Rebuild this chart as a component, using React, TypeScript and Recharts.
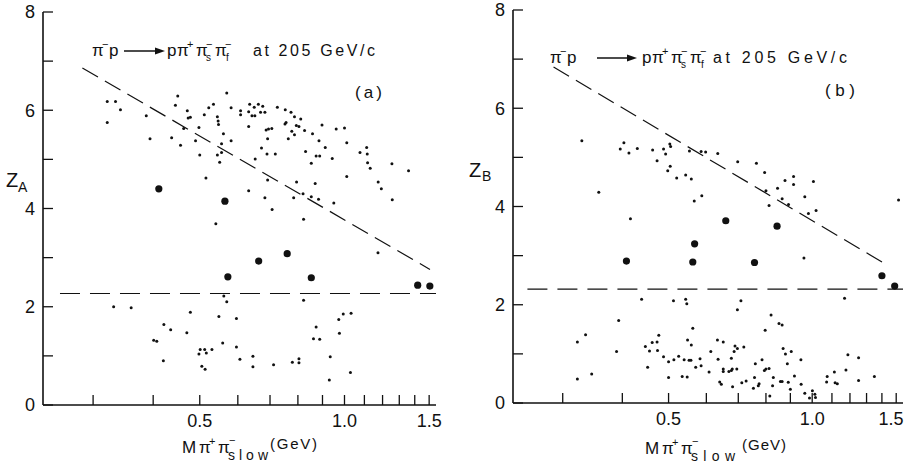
import { ScatterChart, Scatter, XAxis, YAxis, ReferenceLine } from "recharts";

// Z vs M(pi+ pi-slow), two panels (Z_A and Z_B). Values are [M in GeV, Z].
const M_DOMAIN: [number, number] = [0.236, 1.55];
const M_TICKS = [0.3, 0.4, 0.5, 0.6, 0.7, 0.8, 0.9, 1.0, 1.1, 1.2, 1.3, 1.4, 1.5];
const M_LABELS = [0.5, 1.0, 1.5];
const Z_DOMAIN: [number, number] = [0, 8];
const Z_TICKS = [0, 1, 2, 3, 4, 5, 6, 7, 8];
const Z_LABELS = [0, 2, 4, 6, 8];

const panelAEvents: [number, number][] = [
  [0.321, 6.18], [0.334, 6.18], [0.342, 6.01], [0.321, 5.75], [0.387, 5.89], [0.394, 5.42],
  [0.45, 6.29], [0.445, 6.1], [0.437, 5.44], [0.456, 5.29], [0.471, 5.99], [0.473, 5.84],
  [0.478, 5.86], [0.463, 5.63], [0.498, 5.65], [0.49, 5.38], [0.5, 5.09], [0.511, 5.91],
  [0.522, 6.05], [0.534, 6.12], [0.569, 6.35], [0.544, 5.87], [0.546, 5.78], [0.547, 5.71],
  [0.56, 5.52], [0.555, 5.32], [0.544, 5.09], [0.55, 4.94], [0.555, 5.14], [0.515, 4.62],
  [0.581, 6.05], [0.581, 5.38], [0.608, 5.99], [0.608, 5.91], [0.635, 6.12], [0.649, 6.06],
  [0.662, 6.12], [0.632, 5.97], [0.642, 5.89], [0.651, 5.89], [0.632, 5.67], [0.652, 5.01],
  [0.632, 4.36], [0.54, 3.69], [0.676, 6.08], [0.669, 5.96], [0.683, 5.96], [0.725, 6.06],
  [0.753, 6.01], [0.774, 5.96], [0.787, 5.87], [0.811, 5.82], [0.756, 5.75], [0.752, 5.72],
  [0.794, 5.69], [0.804, 5.67], [0.777, 5.57], [0.826, 5.59], [0.687, 5.6], [0.695, 5.62],
  [0.706, 5.63], [0.692, 5.42], [0.764, 5.42], [0.787, 5.5], [0.858, 5.52], [0.898, 5.7],
  [0.961, 5.62], [1.0, 5.64], [0.885, 5.38], [1.011, 5.34], [0.672, 5.23], [0.69, 5.11],
  [0.718, 5.11], [0.83, 5.16], [0.912, 5.24], [0.873, 5.07], [0.888, 5.07], [0.943, 5.02],
  [0.853, 4.92], [1.077, 5.14], [1.112, 5.24], [1.115, 5.11], [1.117, 4.93], [1.131, 4.82],
  [1.255, 4.91], [1.359, 4.77], [1.011, 4.65], [0.692, 4.58], [0.795, 4.54], [0.869, 4.51],
  [1.175, 4.54], [1.193, 4.4], [0.683, 4.22], [0.784, 4.22], [0.82, 4.3], [0.853, 4.24],
  [0.883, 4.19], [0.95, 4.11], [1.257, 4.18], [0.707, 3.98], [0.822, 3.78], [1.174, 3.1],
  // below the horizontal cut
  [0.331, 2.0], [0.36, 1.98], [0.421, 1.64], [0.435, 1.53], [0.401, 1.32], [0.407, 1.3],
  [0.42, 0.9], [0.478, 1.89], [0.47, 1.47], [0.501, 1.13], [0.512, 1.13], [0.498, 1.04],
  [0.516, 1.06], [0.53, 1.13], [0.505, 0.79], [0.513, 0.73], [0.561, 2.22], [0.569, 2.1],
  [0.548, 1.8], [0.558, 1.26], [0.596, 1.76], [0.596, 1.18], [0.606, 0.93], [0.645, 0.99],
  [0.645, 0.78], [0.712, 0.82], [0.779, 0.87], [0.804, 0.94], [0.804, 0.86], [0.822, 2.13],
  [0.873, 1.59], [0.862, 1.35], [0.888, 1.34], [0.934, 0.98], [0.93, 0.51], [0.973, 1.74],
  [0.994, 1.85], [0.976, 1.46], [1.032, 1.87], [1.029, 0.66],
];
const panelASelected: [number, number][] = [
  [0.411, 4.4], [0.564, 4.15], [0.572, 2.61], [0.663, 2.93], [0.76, 3.08], [0.853, 2.59],
  [1.42, 2.44], [1.505, 2.42],
];

const panelBEvents: [number, number][] = [
  [0.329, 5.34], [0.357, 4.29], [0.416, 3.75], [0.403, 5.3], [0.396, 5.17], [0.413, 5.09],
  [0.43, 5.18], [0.463, 5.15], [0.488, 5.17], [0.503, 5.27], [0.505, 5.22], [0.493, 5.07],
  [0.473, 4.93], [0.504, 4.82], [0.498, 4.73], [0.52, 4.58], [0.543, 4.64], [0.558, 4.56],
  [0.553, 5.13], [0.585, 5.12], [0.598, 5.11], [0.634, 5.08], [0.566, 4.11], [0.587, 4.22],
  [0.698, 4.91], [0.764, 4.88], [0.795, 4.69], [0.8, 4.32], [0.812, 4.02], [0.846, 4.37],
  [0.877, 4.53], [0.914, 4.61], [0.914, 4.45], [0.865, 4.16], [0.892, 4.04], [0.965, 4.2],
  [1.006, 4.51], [0.982, 3.86], [1.019, 3.92], [0.961, 2.95], [1.517, 4.13],
  // below the horizontal cut
  [0.322, 1.24], [0.335, 1.39], [0.322, 0.49], [0.345, 0.59], [0.389, 1.05], [0.393, 1.68],
  [0.439, 2.11], [0.447, 1.15], [0.456, 1.06], [0.452, 0.73], [0.462, 1.23], [0.473, 1.24],
  [0.477, 1.38], [0.474, 1.07], [0.488, 0.94], [0.5, 0.84], [0.5, 0.52], [0.513, 0.88],
  [0.525, 0.95], [0.512, 2.08], [0.543, 2.11], [0.546, 2.02], [0.562, 1.52], [0.548, 1.28],
  [0.558, 1.18], [0.539, 0.88], [0.552, 0.87], [0.557, 0.87], [0.534, 0.54], [0.547, 0.53],
  [0.57, 0.73], [0.582, 0.9], [0.585, 0.76], [0.709, 2.08], [0.697, 1.9], [0.82, 1.79],
  [0.852, 1.62], [0.865, 1.59], [0.797, 1.48], [0.633, 1.28], [0.651, 1.24], [0.689, 1.16],
  [0.697, 1.11], [0.686, 1.05], [0.719, 1.14], [0.613, 1.05], [0.635, 0.89], [0.677, 0.91],
  [0.608, 0.63], [0.651, 0.69], [0.651, 0.64], [0.669, 0.64], [0.677, 0.66], [0.68, 0.69],
  [0.695, 0.69], [0.64, 0.43], [0.645, 0.38], [0.681, 0.33], [0.712, 0.41], [0.727, 0.45],
  [0.757, 0.52], [0.753, 0.3], [0.771, 0.35], [0.774, 0.39], [0.76, 0.8], [0.785, 0.88],
  [0.794, 0.66], [0.8, 0.69], [0.812, 0.7], [0.829, 0.52], [0.826, 0.35], [0.815, 0.14],
  [0.858, 0.44], [0.865, 0.44], [0.869, 1.11], [0.879, 1.0], [0.904, 1.05], [0.887, 0.8],
  [0.891, 0.42], [0.9, 0.28], [0.918, 0.55], [0.947, 0.88], [0.948, 0.38], [0.965, 0.2],
  [1.001, 0.25], [1.013, 0.18], [1.016, 0.11], [0.987, 0.1], [1.075, 0.54], [1.072, 0.43],
  [1.113, 0.63], [1.117, 0.41], [1.129, 0.39], [1.177, 0.67], [1.188, 0.98], [1.251, 0.92],
  [1.251, 0.46], [1.35, 0.54], [1.169, 2.13],
];
const panelBSelected: [number, number][] = [
  [0.408, 2.89], [0.562, 2.87], [0.567, 3.24], [0.659, 3.71], [0.757, 2.86], [0.844, 3.6],
  [1.4, 2.59], [1.489, 2.38],
];

// dashed cut lines
const panelASlope: [number, number][] = [[0.285, 6.86], [1.506, 2.76]];
const panelAFloor: [number, number][] = [[0.256, 2.27], [1.55, 2.27]];
const panelBSlope: [number, number][] = [[0.287, 6.84], [1.44, 2.8]];
const panelBFloor: [number, number][] = [[0.253, 2.32], [1.55, 2.32]];

const FONT = '"Liberation Sans", Arial, sans-serif';
const INK = "#111";
const CHART_H = 464;
const TICK_IN = -10; // negative tick size: marks point into the box
const AXIS_LINE = { stroke: INK, strokeWidth: 1.6 };
const TICK_LINE = { stroke: INK, strokeWidth: 1.3 };

// plot boxes (page px) that follow from the chart positions and margins below
const BOX_A = { left: 43, top: 12, width: 393, height: 393 };
const BOX_B = { left: 513, top: 10, width: 390, height: 393 };

const toPoints = (rows: [number, number][]) => rows.map(([x, y]) => ({ x, y }));
const isLabel = (v: number) => M_LABELS.some((m) => Math.abs(m - v) < 1e-6);

function BottomLabel(props: any) {
  const { x, y, payload, maxX } = props;
  if (!isLabel(payload.value)) return <g />;
  return (
    <text x={Math.min(x, maxX)} y={y - TICK_IN + 22} textAnchor="middle" fontSize={18} fontFamily={FONT} fill={INK}>
      {payload.value.toFixed(1)}
    </text>
  );
}

function LeftLabel(props: any) {
  const { x, y, payload } = props;
  if (!Z_LABELS.includes(payload.value)) return <g />;
  return (
    <text x={x + TICK_IN - 8} y={y} dy="0.36em" textAnchor="end" fontSize={18} fontFamily={FONT} fill={INK}>
      {payload.value}
    </text>
  );
}

const noLabel = () => <g />;
const smallDot = (p: any) => <circle cx={p.cx} cy={p.cy} r={1.5} fill={INK} />;
const bigDot = (p: any) => <circle cx={p.cx} cy={p.cy} r={3.6} fill={INK} />;

interface PanelProps {
  pageLeft: number;
  width: number;
  box: { left: number; top: number; width: number; height: number };
  events: [number, number][];
  selected: [number, number][];
  slope: [number, number][];
  floor: [number, number][];
}

function Panel({ pageLeft, width, box, events, selected, slope, floor }: PanelProps) {
  const seg = (pts: [number, number][]) => pts.map(([x, y]) => ({ x, y }));
  const yAxisW = 30;
  const xAxisH = 30;
  const margin = {
    top: box.top,
    left: box.left - pageLeft - yAxisW,
    right: pageLeft + width - (box.left + box.width),
    bottom: CHART_H - (box.top + box.height) - xAxisH,
  };
  const mAxis = {
    type: "number" as const,
    scale: "log" as const,
    domain: M_DOMAIN,
    allowDataOverflow: true,
    ticks: M_TICKS,
    interval: 0 as const,
    tickSize: TICK_IN,
    tickMargin: 0,
    tickLine: TICK_LINE,
    axisLine: AXIS_LINE,
  };
  const zAxis = {
    type: "number" as const,
    domain: Z_DOMAIN,
    allowDataOverflow: true,
    ticks: Z_TICKS,
    interval: 0 as const,
    tickSize: TICK_IN,
    tickMargin: 0,
    tickLine: TICK_LINE,
    axisLine: AXIS_LINE,
  };
  return (
    <div style={{ position: "absolute", left: pageLeft, top: 0 }}>
      <ScatterChart width={width} height={CHART_H} margin={margin}>
        <XAxis xAxisId="b" dataKey="x" height={xAxisH} {...mAxis} tick={(p: any) => <BottomLabel {...p} maxX={width - 14} />} />
        <XAxis xAxisId="t" orientation="top" height={0} {...mAxis} tick={noLabel} />
        <YAxis yAxisId="l" dataKey="y" width={yAxisW} {...zAxis} tick={(p: any) => <LeftLabel {...p} />} />
        <YAxis yAxisId="r" orientation="right" width={0} {...zAxis} tick={noLabel} />
        <ReferenceLine xAxisId="b" yAxisId="l" ifOverflow="visible" segment={seg(slope)} stroke={INK} strokeWidth={1.2} strokeDasharray="18 8" />
        <ReferenceLine xAxisId="b" yAxisId="l" ifOverflow="visible" segment={seg(floor)} stroke={INK} strokeWidth={1.2} strokeDasharray="20 10" />
        <Scatter xAxisId="b" yAxisId="l" data={toPoints(events)} shape={smallDot} isAnimationActive={false} />
        <Scatter xAxisId="b" yAxisId="l" data={toPoints(selected)} shape={bigDot} isAnimationActive={false} />
      </ScatterChart>
    </div>
  );
}

function Reaction({ x, y, arrow, rest, at, atWidth }: { x: number; y: number; arrow: [number, number]; rest: number; at: number; atWidth: number }) {
  const sup = y - 8;
  const sub = y + 5;
  return (
    <g fontFamily={FONT} fill={INK} fontSize={17}>
      <text x={x} y={y}>π</text>
      <text x={x + 10} y={sup} fontSize={11}>−</text>
      <text x={x + 17} y={y}>p</text>
      <line x1={arrow[0]} y1={y - 5} x2={arrow[1] - 6} y2={y - 5} stroke={INK} strokeWidth={1.4} />
      <polygon points={`${arrow[1]},${y - 5} ${arrow[1] - 10},${y - 8.5} ${arrow[1] - 10},${y - 1.5}`} fill={INK} />
      <text x={rest} y={y}>p</text>
      <text x={rest + 10} y={y}>π</text>
      <text x={rest + 20} y={sup} fontSize={11}>+</text>
      <text x={rest + 29} y={y}>π</text>
      <text x={rest + 39} y={sup} fontSize={11}>−</text>
      <text x={rest + 39} y={sub} fontSize={10}>s</text>
      <text x={rest + 48} y={y}>π</text>
      <text x={rest + 58} y={sup} fontSize={11}>−</text>
      <text x={rest + 59} y={sub} fontSize={10}>f</text>
      <text x={at} y={y} fontSize={16} textLength={atWidth} lengthAdjust="spacing">at 205 GeV/c</text>
    </g>
  );
}

function MassLabel({ x, y, slowWidth, gevX, gevWidth }: { x: number; y: number; slowWidth: number; gevX: number; gevWidth: number }) {
  return (
    <g fontFamily={FONT} fill={INK} fontSize={17}>
      <text x={x} y={y}>M</text>
      <text x={x + 17} y={y}>π</text>
      <text x={x + 27} y={y - 8} fontSize={11}>+</text>
      <text x={x + 36} y={y}>π</text>
      <text x={x + 47} y={y - 9} fontSize={11}>−</text>
      <text x={x + 46} y={y + 7} fontSize={14} textLength={slowWidth} lengthAdjust="spacing">slow</text>
      <text x={gevX} y={y - 4} fontSize={15} textLength={gevWidth} lengthAdjust="spacing">(GeV)</text>
    </g>
  );
}

export default function App() {
  return (
    <div style={{ position: "absolute", left: 0, top: 0, width: 905, height: 464, background: "#fff", overflow: "hidden" }}>
      <Panel pageLeft={0} width={470} box={BOX_A} events={panelAEvents} selected={panelASelected} slope={panelASlope} floor={panelAFloor} />
      <Panel pageLeft={470} width={435} box={BOX_B} events={panelBEvents} selected={panelBSelected} slope={panelBSlope} floor={panelBFloor} />
      <svg width={905} height={464} style={{ position: "absolute", left: 0, top: 0, pointerEvents: "none" }}>
        <Reaction x={92} y={56} arrow={[124, 165]} rest={167} at={253} atWidth={122} />
        <Reaction x={550} y={63} arrow={[597, 637]} rest={642} at={713} atWidth={134} />
        <text x={355} y={98} fontSize={17} fontFamily={FONT} fill={INK} textLength={27} lengthAdjust="spacing">(a)</text>
        <text x={825} y={96} fontSize={17} fontFamily={FONT} fill={INK} textLength={30} lengthAdjust="spacing">(b)</text>
        <g fontFamily={FONT} fill={INK}>
          <text x={6} y={187} fontSize={20}>Z</text>
          <text x={18} y={192} fontSize={14}>A</text>
          <text x={469} y={177} fontSize={20}>Z</text>
          <text x={482} y={181} fontSize={14}>B</text>
        </g>
        <MassLabel x={182} y={453} slowWidth={40} gevX={270} gevWidth={47} />
        <MassLabel x={645} y={454} slowWidth={44} gevX={742} gevWidth={44} />
      </svg>
    </div>
  );
}
